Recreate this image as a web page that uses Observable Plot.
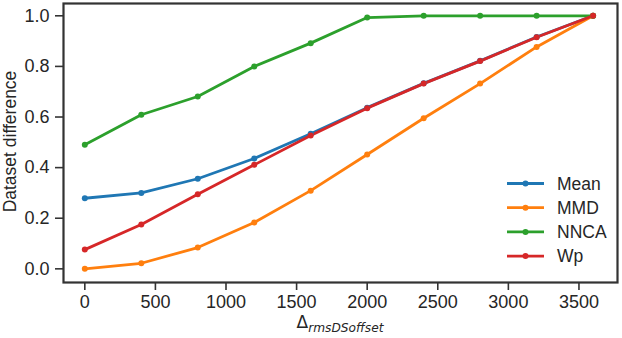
<!DOCTYPE html>
<html><head><meta charset="utf-8">
<script src="https://cdn.jsdelivr.net/npm/d3@7"></script>
<script src="https://cdn.jsdelivr.net/npm/@observablehq/plot@0.6"></script>
<style>
body{margin:0;background:#fff}
#c{width:622px;height:338px}
#c svg text{font-family:"Liberation Sans",Arial,sans-serif}
#c svg g[aria-label="x-axis tick label"] text,
#c svg g[aria-label="y-axis tick label"] text{font-size:18px}
</style>
</head><body><div id="c"></div>
<script>
const offsets = [0, 400, 800, 1200, 1600, 2000, 2400, 2800, 3200, 3600];
const seriesNames = ["Mean", "MMD", "NNCA", "Wp"];
const seriesColors = ["#1f77b4", "#ff7f0e", "#2ca02c", "#d62728"];
const meanVals = [0.279, 0.300, 0.356, 0.436, 0.534, 0.637, 0.733, 0.822, 0.916, 1.0];
const mmdVals  = [0.000, 0.022, 0.084, 0.183, 0.309, 0.452, 0.595, 0.732, 0.877, 1.0];
const nncaVals = [0.490, 0.609, 0.681, 0.800, 0.892, 0.993, 1.0, 1.0, 1.0, 1.0];
const wpVals   = [0.076, 0.175, 0.295, 0.411, 0.527, 0.635, 0.732, 0.821, 0.915, 1.0];
const xTicks = [0, 500, 1000, 1500, 2000, 2500, 3000, 3500];
const yTicks = [0, 0.2, 0.4, 0.6, 0.8, 1.0];

const all = [meanVals, mmdVals, nncaVals, wpVals];
const rows = [];
seriesNames.forEach((s, i) => offsets.forEach((x, j) => rows.push({series: s, x, y: all[i][j]})));

const ink = "#262626";
const plot = Plot.plot({
  width: 622, height: 338,
  marginLeft: 63, marginRight: 5, marginTop: 3, marginBottom: 56,
  style: {fontFamily: "Liberation Sans, Arial, sans-serif", fontSize: "18px", color: ink, background: "#fff"},
  x: {domain: [-151, 3773], label: null},
  y: {domain: [-0.054, 1.0486], label: null},
  color: {domain: seriesNames, range: seriesColors},
  marks: [
    Plot.axisX({ticks: xTicks, tickSize: 8, tickPadding: 5, tickFormat: d => String(d), stroke: "#333", strokeWidth: 1.6, strokeOpacity: 1, fontSize: 18, fill: ink}),
    Plot.axisY({ticks: yTicks, tickSize: 8, tickPadding: 6, tickFormat: d => d.toFixed(1), stroke: "#333", strokeWidth: 1.6, strokeOpacity: 1, fontSize: 18, fill: ink}),
    Plot.line(rows, {x: "x", y: "y", z: "series", stroke: "series", strokeWidth: 2.8}),
    Plot.dot(rows, {x: "x", y: "y", fill: "series", r: 3, stroke: "none"}),
    Plot.frame({stroke: "#333", strokeWidth: 2.2})
  ]
});
document.getElementById("c").appendChild(plot);

const svg = d3.select(plot);
// y label
svg.append("text").attr("transform", "translate(15.5,141.5) rotate(-90)")
  .attr("text-anchor", "middle").style("font-size", "17.5px").attr("fill", ink)
  .text("Dataset difference");
// x label with subscript (mathtext-like)
const xl = svg.append("text").attr("x", 340).attr("y", 328).attr("text-anchor", "middle").attr("fill", ink);
xl.append("tspan").style("font-size", "17px").style("font-family", "DejaVu Sans").text("Δ");
xl.append("tspan").style("font-size", "12.2px").style("font-family", "DejaVu Sans").style("font-style", "italic").attr("dy", 4).text("rmsDSoffset");
// legend
const lg = svg.append("g");
seriesNames.forEach((s, i) => {
  const yy = 183.5 + i * 24.2;
  lg.append("line").attr("x1", 507).attr("x2", 544).attr("y1", yy).attr("y2", yy)
    .attr("stroke", seriesColors[i]).attr("stroke-width", 2.8);
  lg.append("circle").attr("cx", 525.5).attr("cy", yy).attr("r", 3).attr("fill", seriesColors[i]);
  lg.append("text").attr("x", 557).attr("y", yy).attr("dy", "0.35em").attr("text-anchor", "start")
    .style("font-size", "17.5px").attr("fill", ink).text(s);
});
</script></body></html>
